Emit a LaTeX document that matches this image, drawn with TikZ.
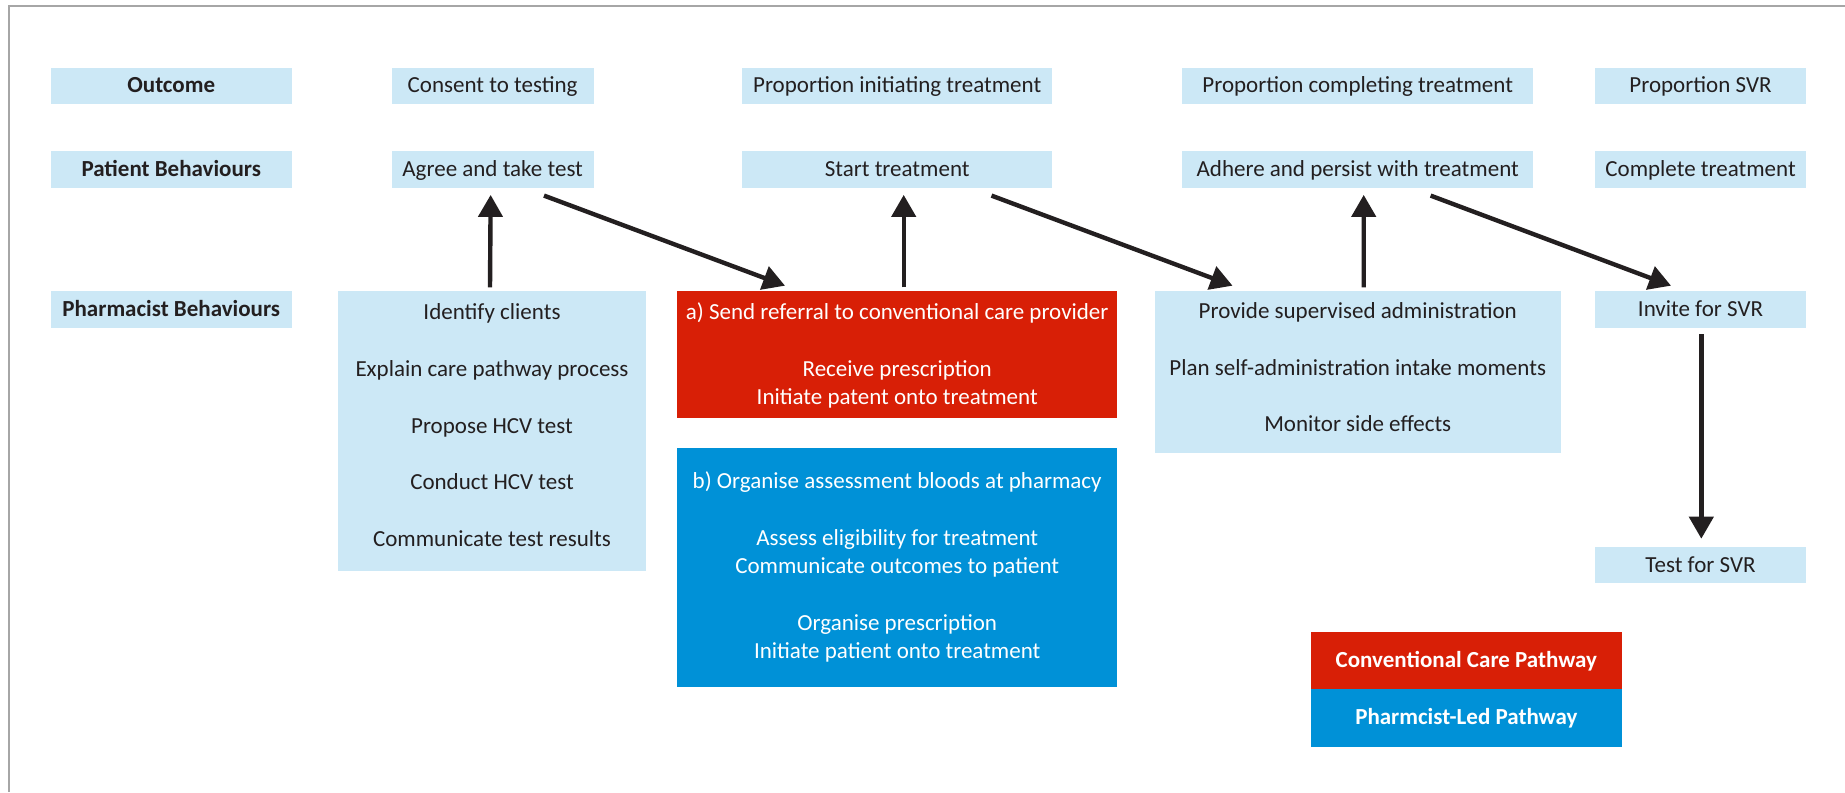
\documentclass[tikz,border=0pt]{standalone}
\usepackage{fontspec}
\setmainfont{Carlito}
\usetikzlibrary{arrows.meta}

\definecolor{paleblue}{RGB}{204,232,246}
\definecolor{carered}{RGB}{216,31,6}
\definecolor{ledblue}{RGB}{0,145,215}
\definecolor{inkdark}{RGB}{35,31,32}
\definecolor{framegray}{RGB}{166,166,166}

\newcommand\diagfont{\fontsize{11.5pt}{14.15pt}\selectfont}

\tikzset{
  sz/.style 2 args={minimum width=#1*0.5pt, minimum height=#2*0.5pt},
  panel/.style={rectangle, inner sep=0pt, outer sep=0pt, anchor=north west},
  cell/.style={panel, fill=paleblue, text=inkdark, font=\diagfont,
               text height=9pt, text depth=2pt},
  head/.style={cell, font=\diagfont\bfseries},
  legend/.style={panel, text=white, font=\diagfont\bfseries,
                 text height=9pt, text depth=2pt},
  para/.style={inner sep=0pt, anchor=north, align=center, font=\diagfont},
  flow/.style={draw=inkdark, line width=2.2pt, -{Triangle[width=12pt,length=11pt]}},
}

\begin{document}
\begin{tikzpicture}[x=0.5pt, y=-0.5pt]
\useasboundingbox (0,0) rectangle (1845,792);
\fill[white] (0,0) rectangle (1845,792);
\draw[framegray, line width=1pt] (9,792) -- (9,6) -- (1845,6);

% row headings
\node[head, sz={240.5}{36.6}] (hOut) at (51,67.7) {Outcome};
\node[head, sz={240.5}{36.6}] (hPat) at (51,151) {Patient Behaviours};
\node[head, sz={240.5}{36.6}] (hPha) at (51,291) {Pharmacist Behaviours};

% outcomes
\node[cell, sz={202.3}{36.6}] (oTest) at (391.5,67.7) {Consent to testing};
\node[cell, sz={309.6}{36.6}] (oInit) at (742.4,67.7) {Proportion initiating treatment};
\node[cell, sz={351.4}{36.6}] (oComp) at (1182,67.7) {Proportion completing treatment};
\node[cell, sz={211}{36.6}] (oSvr) at (1595,67.7) {Proportion SVR};

% patient behaviours
\node[cell, sz={202.3}{36.6}] (agree) at (391.5,151) {Agree and take test};
\node[cell, sz={309.6}{36.6}] (start) at (742.4,151) {Start treatment};
\node[cell, sz={351.4}{36.6}] (adhere) at (1182,151) {Adhere and persist with treatment};
\node[cell, sz={211}{36.6}] (complete) at (1595,151) {Complete treatment};

% pharmacist behaviours
\node[panel, fill=paleblue, sz={308}{279.5}] (ident) at (338,291) {};
\node[panel, fill=carered, sz={440.4}{126.7}] (refer) at (677,291) {};
\node[panel, fill=ledblue, sz={440.4}{238.8}] (bloods) at (677,447.7) {};
\node[panel, fill=paleblue, sz={406.5}{162}] (admin) at (1154.5,290.5) {};
\node[cell, sz={211}{36.6}] (invite) at (1595,291) {Invite for SVR};
\node[cell, sz={211}{36.6}] (svrtest) at (1595,546.7) {Test for SVR};

\node[para, text=inkdark] (identText) at ([shift={(0,8.7)}]ident.north)
  {\strut Identify clients\\[14.15pt]
   Explain care pathway process\\[14.15pt]
   Propose HCV test\\[14.15pt]
   Conduct HCV test\\[14.15pt]
   Communicate test results};
\node[para, text=white] (referText) at ([shift={(0,8.7)}]refer.north)
  {\strut a) Send referral to conventional care provider\\[14.15pt]
   Receive prescription\\
   Initiate patent onto treatment};
\node[para, text=white] (bloodsText) at ([shift={(0,20.9)}]bloods.north)
  {\strut b) Organise assessment bloods at pharmacy\\[14.15pt]
   Assess eligibility for treatment\\
   Communicate outcomes to patient\\[14.15pt]
   Organise prescription\\
   Initiate patient onto treatment};
\node[para, text=inkdark] (adminText) at ([shift={(0,7.7)}]admin.north)
  {\strut Provide supervised administration\\[14.15pt]
   Plan self-administration intake moments\\[14.15pt]
   Monitor side effects};

% legend
\node[legend, fill=carered, sz={310.6}{57.3}] (legCare) at (1311,631.7) {Conventional Care Pathway};
\node[legend, fill=ledblue, sz={310.6}{57.7}] (legPharm) at (legCare.south west) {Pharmcist-Led Pathway};

% connectors
\draw[flow] ([shift={(-2,-3.7)}]ident.north) -- ([shift={(-2,7.3)}]agree.south);
\draw[flow] ([shift={(-49.8,8)}]agree.south east) -- ([shift={(108,-5.3)}]refer.north west);
\draw[flow] ([shift={(6.5,-3.7)}]refer.north) -- ([shift={(6.5,7.3)}]start.south);
\draw[flow] ([shift={(-60.5,8)}]start.south east) -- ([shift={(78,-4.8)}]admin.north west);
\draw[flow] ([shift={(6,-3.2)}]admin.north) -- ([shift={(6,7.3)}]adhere.south);
\draw[flow] ([shift={(-102.8,8)}]adhere.south east) -- ([shift={(76,-5.3)}]invite.north west);
\draw[flow] ([shift={(0.8,6.6)}]invite.south) -- ([shift={(0.8,-8)}]svrtest.north);
\end{tikzpicture}
\end{document}
